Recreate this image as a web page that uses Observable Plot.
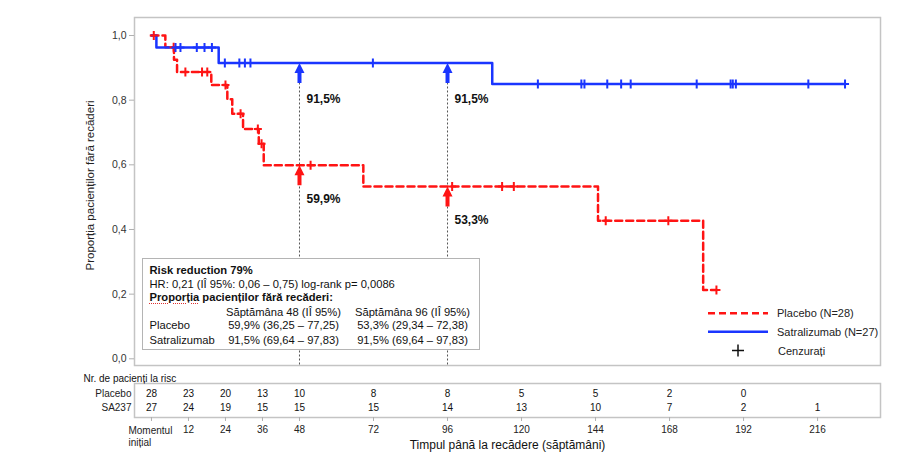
<!DOCTYPE html>
<html>
<head>
<meta charset="utf-8">
<script src="https://cdn.jsdelivr.net/npm/d3@7"></script>
<script src="https://cdn.jsdelivr.net/npm/@observablehq/plot@0.6"></script>
<style>
  body { margin: 0; background: #fff; }
  #chart { position: relative; width: 920px; height: 471px; font-family: "Liberation Sans", Arial, sans-serif; color: #111; }
  #chart > svg { display: block; }
  .info { position: absolute; left: 141.5px; top: 258px; width: 338px; height: 92px; box-sizing: border-box;
          border: 1px solid #b4b4b4; background: #fff; font-size: 11.2px; }
  .info div { position: absolute; line-height: 13px; white-space: nowrap; }
  .info .c2, .info .c3 { text-align: center; width: 130px; }
  .info .c2 { left: 76px; }
  .info .c3 { left: 205px; }
  .spell { text-decoration: underline dotted #e03030; text-underline-offset: 2px; }
  .legend { position: absolute; left: 700px; top: 300px; overflow: visible; }
</style>
</head>
<body>
<div id="chart"></div>
<script>
// Kaplan–Meier curves: week of each step and proportion relapse-free after it
const placeboTimes = [0, 4.5, 7.3, 8.3, 19.4, 24.6, 26.2, 29.7, 34.8, 36.4, 68.7, 144.8, 178.9, 183.2];
const placeboSurv  = [1, 0.964, 0.925, 0.887, 0.847, 0.803, 0.758, 0.711, 0.665, 0.599, 0.533, 0.427, 0.213, 0.213];
const satraTimes   = [0, 1.6, 21.8, 110.5, 224.9];
const satraSurv    = [1, 0.963, 0.915, 0.850, 0.850];

// Censored patients (weeks)
const placeboCensored = [0.75, 7.2, 11.0, 16.4, 18.1, 24.0, 28.9, 34.5, 35.7, 51.6, 97.5, 113.7, 117.5, 147.3, 167.6, 183.2];
const satraCensored   = [7.8, 9.4, 14.7, 17.2, 19.6, 23.8, 28.5, 30.3, 32.1, 71.8, 125.3, 139.4, 140.4, 147.8,
                         152.3, 155.4, 176.8, 187.8, 188.5, 189.5, 213.0, 224.9];

// Landmark estimates at weeks 48 and 96 with 95% CI
const landmarkWeeks   = [48, 96];
const placeboLandmark = [0.599, 0.533];
const satraLandmark   = [0.915, 0.915];
const placeboCI       = [[36.25, 77.25], [29.34, 72.38]];
const satraCI         = [[69.64, 97.83], [69.64, 97.83]];

// Numbers at risk
const riskWeeks     = [0, 12, 24, 36, 48, 72, 96, 120, 144, 168, 192, 216];
const placeboAtRisk = [28, 23, 20, 13, 10, 8, 8, 5, 5, 2, 0];
const satraAtRisk   = [27, 24, 19, 15, 15, 15, 14, 13, 10, 7, 2, 1];

const yTicks = [0, 0.2, 0.4, 0.6, 0.8, 1.0];
const armNames = ["Placebo", "Satralizumab"];
const armN = [28, 27];
const riskRowNames = ["Placebo", "SA237"];

const red = "#ff1414", blue = "#1a35ff";
const font = '"Liberation Sans", Arial, sans-serif';
const W = 920, mL = 134, mR = 40;
const xDomain = [-5.5, 236.4];
const yDomain = [-0.0207, 1.0557];

const comma = (v, d) => v.toFixed(d).replace(".", ",");
const pct = v => comma(v * 100, 1) + "%";

const toSteps = (times, surv) => times.map((t, i) => ({t, s: surv[i]}));
const survAt = (times, surv, t) => surv[d3.bisectRight(times, t) - 1];
const toCensor = (cens, times, surv) => cens.map(t => ({t, s: survAt(times, surv, t)}));

const landmarks = landmarkWeeks.map((w, i) => ({week: w, placebo: placeboLandmark[i], satra: satraLandmark[i]}));

// censor mark: a small plus sign
const plusSymbol = {draw(ctx) { ctx.moveTo(-4, 0); ctx.lineTo(4, 0); ctx.moveTo(0, -4.5); ctx.lineTo(0, 4.5); }};
// upward arrow whose tip sits on the point
const arrowSymbol = {draw(ctx) {
  ctx.moveTo(0, 0); ctx.lineTo(5, 10); ctx.lineTo(2, 10); ctx.lineTo(2, 20);
  ctx.lineTo(-2, 20); ctx.lineTo(-2, 10); ctx.lineTo(-5, 10); ctx.closePath();
}};

const main = Plot.plot({
  width: W, height: 368,
  marginTop: 17, marginBottom: 3, marginLeft: mL, marginRight: mR,
  style: {fontFamily: font, fontSize: "10.5px", color: "#333", background: "white"},
  x: {domain: xDomain, axis: null},
  y: {domain: yDomain, axis: null},
  marks: [
    Plot.frame({stroke: "#c4c4c4", strokeWidth: 1.5}),
    Plot.axisY({ticks: yTicks, tickFormat: d => comma(d, 1), tickSize: 5, tickPadding: 3, stroke: "#b0b0b0", fill: "#333"}),
    Plot.text(["Proporția pacienților fără recăderi"], {frameAnchor: "left", textAnchor: "middle", rotate: -90, dx: -44, dy: -6, fontSize: 11.5, fill: "#222"}),
    Plot.ruleX(landmarks, {x: "week", y1: "satra", y2: yDomain[0], stroke: "#555", strokeDasharray: "2,2", strokeWidth: 1}),
    Plot.line(toSteps(placeboTimes, placeboSurv), {x: "t", y: "s", curve: "step-after", stroke: red, strokeWidth: 2.5, strokeDasharray: "7,4"}),
    Plot.line(toSteps(satraTimes, satraSurv), {x: "t", y: "s", curve: "step-after", stroke: blue, strokeWidth: 2.5}),
    Plot.dot(toCensor(placeboCensored, placeboTimes, placeboSurv), {x: "t", y: "s", symbol: plusSymbol, fill: "none", stroke: red, strokeWidth: 2}),
    Plot.dot(toCensor(satraCensored, satraTimes, satraSurv), {x: "t", y: "s", symbol: plusSymbol, fill: "none", stroke: blue, strokeWidth: 2}),
    Plot.dot(landmarks, {x: "week", y: "placebo", symbol: arrowSymbol, fill: red, stroke: "none"}),
    Plot.dot(landmarks, {x: "week", y: "satra", symbol: arrowSymbol, fill: blue, stroke: "none"}),
    Plot.text(landmarks, {x: "week", y: "placebo", text: d => pct(d.placebo), dx: 7, dy: 34, textAnchor: "start", fontWeight: "bold", fontSize: 12, fill: "#111"}),
    Plot.text(landmarks, {x: "week", y: "satra", text: d => pct(d.satra), dx: 7, dy: 36, textAnchor: "start", fontWeight: "bold", fontSize: 12, fill: "#111"})
  ]
});

const riskRows = [
  ...placeboAtRisk.map((n, i) => ({arm: riskRowNames[0], t: riskWeeks[i], n})),
  ...satraAtRisk.map((n, i) => ({arm: riskRowNames[1], t: riskWeeks[i], n}))
];

const risk = Plot.plot({
  width: W, height: 103,
  marginTop: 15, marginBottom: 54, marginLeft: mL, marginRight: mR,
  style: {fontFamily: font, fontSize: "10px", color: "#222", background: "white"},
  x: {domain: xDomain},
  y: {type: "point", domain: riskRowNames, range: [25, 39], padding: 0},
  marks: [
    Plot.frame({stroke: "#c4c4c4", strokeWidth: 1.5}),
    Plot.axisY({tickSize: 0, tickPadding: 3, fill: "#222", label: null}),
    Plot.axisX({ticks: riskWeeks, tickFormat: d => d === 0 ? "" : String(d), tickSize: 4, tickPadding: 4, stroke: "#b0b0b0", fill: "#222", label: null}),
    Plot.text(riskRows, {x: "t", y: "arm", text: "n", fill: "#111"}),
    Plot.text([{t: 0, label: "Momentul\ninițial"}], {x: "t", text: "label", frameAnchor: "bottom", dy: 8, dx: -23, textAnchor: "start", lineAnchor: "top", lineHeight: 1.17, fill: "#222"}),
    Plot.text(["Nr. de pacienți la risc"], {frameAnchor: "top-left", dx: -51, dy: -9, textAnchor: "start", fill: "#111"}),
    Plot.text(["Timpul până la recădere (săptămâni)"], {frameAnchor: "bottom", dy: 31, fontSize: 12, fill: "#111"})
  ]
});

const chart = document.getElementById("chart");
chart.append(main, risk);

// Summary box: hazard ratio and landmark estimates
const ci = c => `(${comma(c[0], 2)} – ${comma(c[1], 2)})`;
const info = document.createElement("div");
info.className = "info";
const rowTops = [4.5, 19.2, 31.9, 46.9, 60.2, 75.2];
info.innerHTML = `
  <div style="left:7px;top:${rowTops[0]}px;font-weight:bold">Risk reduction 79%</div>
  <div style="left:7px;top:${rowTops[1]}px">HR: 0,21 (IÎ 95%: 0,06 – 0,75) log-rank p= 0,0086</div>
  <div style="left:7px;top:${rowTops[2]}px;font-weight:bold"><span class="spell">Proporția</span> pacienților fără recăderi:</div>
  <div class="c2" style="top:${rowTops[3]}px">Săptămâna ${landmarkWeeks[0]} (IÎ 95%)</div>
  <div class="c3" style="top:${rowTops[3]}px">Săptămâna ${landmarkWeeks[1]} (IÎ 95%)</div>
  <div style="left:7px;top:${rowTops[4]}px">${armNames[0]}</div>
  <div class="c2" style="top:${rowTops[4]}px">${pct(placeboLandmark[0])} ${ci(placeboCI[0])}</div>
  <div class="c3" style="top:${rowTops[4]}px">${pct(placeboLandmark[1])} ${ci(placeboCI[1])}</div>
  <div style="left:7px;top:${rowTops[5]}px">${armNames[1]}</div>
  <div class="c2" style="top:${rowTops[5]}px">${pct(satraLandmark[0])} ${ci(satraCI[0])}</div>
  <div class="c3" style="top:${rowTops[5]}px">${pct(satraLandmark[1])} ${ci(satraCI[1])}</div>`;
chart.append(info);

// Legend: line styles for each arm and the censoring marker
const leg = d3.create("svg").attr("class", "legend").attr("width", 200).attr("height", 60)
  .style("font-family", font).style("font-size", "11px");
const legRows = [
  {label: `${armNames[0]} (N=${armN[0]})`, color: red, dash: "7,4"},
  {label: `${armNames[1]} (N=${armN[1]})`, color: blue, dash: null}
];
legRows.forEach((r, i) => {
  const y = 13.3 + i * 18.5;
  leg.append("line").attr("x1", 8).attr("x2", 68).attr("y1", y).attr("y2", y)
    .attr("stroke", r.color).attr("stroke-width", 2.5).attr("stroke-dasharray", r.dash);
  leg.append("text").attr("x", 77).attr("y", y).attr("dy", "0.35em").attr("fill", "#222").text(r.label);
});
leg.append("path").attr("d", "M32,50.5h12M38,44.5v12").attr("stroke", "#111").attr("stroke-width", 1.5);
leg.append("text").attr("x", 78).attr("y", 51).attr("dy", "0.35em").attr("fill", "#222").text("Cenzurați");
chart.append(leg.node());
</script>
</body>
</html>
